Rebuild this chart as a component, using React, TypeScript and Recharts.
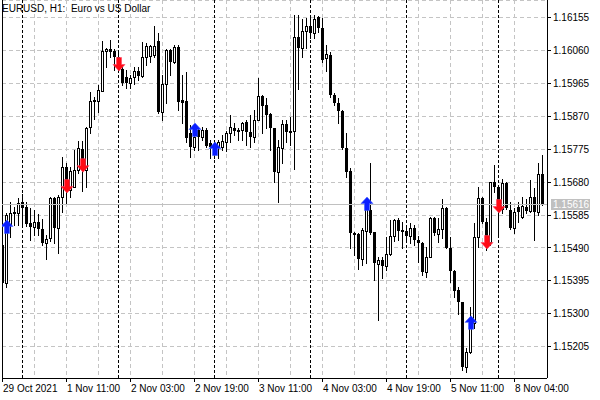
import React from "react";
import {
  ComposedChart,
  Bar,
  Scatter,
  XAxis,
  YAxis,
  CartesianGrid,
  ReferenceLine,
} from "recharts";

const FONT = '"Liberation Sans", Arial, sans-serif';

// EURUSD H1, bar 0 = 29 Oct 19:00, bar 135 = 8 Nov 10:00
const openPrices = [
  1.15499, 1.15389, 1.15559, 1.15591, 1.15591, 1.15623, 1.15608, 1.15562, 1.15551, 1.15565,
  1.15545, 1.15504, 1.15519, 1.15634, 1.15548, 1.15637, 1.15724, 1.15657, 1.15666, 1.15715,
  1.15776, 1.15715, 1.15839, 1.15917, 1.15914, 1.15943, 1.16059, 1.16064, 1.16059, 1.16041,
  1.16007, 1.15984, 1.15966, 1.15984, 1.16001, 1.15987, 1.16041, 1.16044, 1.16047, 1.16088,
  1.15883, 1.15963, 1.16062, 1.16027, 1.1607, 1.15917, 1.15914, 1.15822, 1.15782, 1.15831,
  1.1581, 1.15831, 1.15793, 1.15782, 1.15782, 1.15782, 1.15796, 1.15822, 1.15836, 1.15831,
  1.15831, 1.15854, 1.15825, 1.1581, 1.15859, 1.15929, 1.15903, 1.15877, 1.15836, 1.15709,
  1.15779, 1.15848, 1.15825, 1.15828, 1.16099, 1.16067, 1.16116, 1.16131, 1.16111, 1.16157,
  1.16125, 1.16038, 1.16047, 1.15932, 1.15909, 1.15885, 1.15779, 1.15712, 1.15533, 1.1553,
  1.15458, 1.15539, 1.156, 1.15536, 1.15444, 1.15455, 1.15438, 1.15473, 1.15525, 1.15571,
  1.15542, 1.15539, 1.15525, 1.15548, 1.15513, 1.15504, 1.15421, 1.15464, 1.15576, 1.1553,
  1.15545, 1.15605, 1.1549, 1.15424, 1.15369, 1.15334, 1.15146, 1.1519, 1.15273, 1.15522,
  1.15634, 1.15565, 1.15507, 1.1568, 1.15666, 1.15602, 1.15678, 1.156, 1.15548, 1.15608,
  1.15579, 1.15608, 1.15597, 1.15637, 1.15594, 1.15704,
];

const highPrices = [
  1.15504, 1.15591, 1.15623, 1.15608, 1.15634, 1.15646, 1.15623, 1.15605, 1.156, 1.15588,
  1.15574, 1.15527, 1.15637, 1.15637, 1.15643, 1.15753, 1.15735, 1.15724, 1.15773, 1.15799,
  1.15799, 1.15839, 1.1594, 1.15926, 1.15961, 1.16088, 1.16067, 1.1609, 1.16064, 1.16056,
  1.16013, 1.16004, 1.15989, 1.16013, 1.16013, 1.16085, 1.16082, 1.16076, 1.16131, 1.16111,
  1.15989, 1.16064, 1.16064, 1.16076, 1.16076, 1.15989, 1.15998, 1.15845, 1.15839, 1.15836,
  1.15839, 1.15836, 1.15802, 1.15796, 1.15802, 1.15816, 1.15828, 1.15874, 1.15851, 1.15836,
  1.15854, 1.15859, 1.15874, 1.15888, 1.15981, 1.15932, 1.15923, 1.1588, 1.15836, 1.15802,
  1.15859, 1.15859, 1.15868, 1.16163, 1.16163, 1.16151, 1.16154, 1.16163, 1.16163, 1.1616,
  1.16154, 1.16076, 1.16056, 1.15937, 1.15923, 1.15888, 1.15822, 1.15721, 1.15536, 1.15533,
  1.15548, 1.15628, 1.15735, 1.15536, 1.15464, 1.15464, 1.15522, 1.15571, 1.15574, 1.15576,
  1.15565, 1.15551, 1.15562, 1.15556, 1.15525, 1.15507, 1.15493, 1.15579, 1.15579, 1.15576,
  1.15631, 1.15608, 1.15522, 1.15426, 1.15377, 1.15334, 1.15201, 1.1532, 1.15562, 1.15666,
  1.15637, 1.15576, 1.1568, 1.1573, 1.15672, 1.15689, 1.1568, 1.15623, 1.15605, 1.15623,
  1.15637, 1.15631, 1.15686, 1.15663, 1.15735, 1.15758,
];

const lowPrices = [
  1.15386, 1.15377, 1.15522, 1.15556, 1.15556, 1.15559, 1.15553, 1.15513, 1.15527, 1.15527,
  1.15499, 1.15458, 1.1551, 1.15504, 1.15475, 1.15594, 1.1562, 1.15637, 1.15666, 1.15706,
  1.15654, 1.15666, 1.15822, 1.15862, 1.15883, 1.15943, 1.16013, 1.16041, 1.16004, 1.16007,
  1.15961, 1.15952, 1.15952, 1.15963, 1.15975, 1.15984, 1.16018, 1.16027, 1.16041, 1.1588,
  1.15859, 1.15909, 1.15989, 1.16024, 1.15888, 1.15851, 1.15796, 1.15753, 1.15773, 1.15773,
  1.15802, 1.15782, 1.1575, 1.1575, 1.1575, 1.15773, 1.1577, 1.15796, 1.15816, 1.15802,
  1.15802, 1.15787, 1.15782, 1.15796, 1.15859, 1.15822, 1.15836, 1.15773, 1.1568, 1.15623,
  1.15735, 1.15796, 1.15787, 1.15718, 1.15949, 1.16041, 1.16067, 1.16096, 1.16096, 1.16114,
  1.16027, 1.16001, 1.15926, 1.15903, 1.15851, 1.15776, 1.15695, 1.1549, 1.1547, 1.15429,
  1.15441, 1.15447, 1.1553, 1.15398, 1.15282, 1.15403, 1.15426, 1.1547, 1.1551, 1.15513,
  1.1549, 1.15513, 1.15504, 1.15499, 1.15449, 1.15412, 1.15406, 1.15464, 1.15527, 1.15507,
  1.15519, 1.1549, 1.15392, 1.15348, 1.15299, 1.15138, 1.15132, 1.15187, 1.15259, 1.15493,
  1.15562, 1.15484, 1.15499, 1.15652, 1.15527, 1.15591, 1.15602, 1.15545, 1.15533, 1.15565,
  1.15576, 1.15591, 1.15594, 1.15513, 1.15585, 1.15614,
];

const closePrices = [
  1.15389, 1.15585, 1.15591, 1.15594, 1.1562, 1.15605, 1.15559, 1.15551, 1.15565, 1.15545,
  1.15504, 1.15516, 1.15634, 1.15548, 1.15637, 1.15724, 1.15657, 1.15712, 1.15715, 1.15779,
  1.15715, 1.15836, 1.15914, 1.15911, 1.15946, 1.16059, 1.16064, 1.16056, 1.16041, 1.16024,
  1.15966, 1.15966, 1.15981, 1.16001, 1.15987, 1.16041, 1.16073, 1.16073, 1.16073, 1.15883,
  1.15963, 1.16062, 1.16027, 1.1607, 1.15911, 1.15909, 1.15808, 1.15782, 1.1581, 1.1581,
  1.15831, 1.15784, 1.15782, 1.1577, 1.15796, 1.15799, 1.15822, 1.15839, 1.15828, 1.15825,
  1.15851, 1.15825, 1.1581, 1.15859, 1.15929, 1.159, 1.15874, 1.15836, 1.15709, 1.15782,
  1.15848, 1.15825, 1.15828, 1.16099, 1.16067, 1.16116, 1.16131, 1.16111, 1.16151, 1.16125,
  1.16033, 1.1605, 1.15932, 1.15909, 1.15885, 1.15779, 1.15709, 1.15533, 1.15527, 1.15458,
  1.15542, 1.15608, 1.15533, 1.15447, 1.15455, 1.15438, 1.15473, 1.15525, 1.15571, 1.15539,
  1.15536, 1.15525, 1.15548, 1.15513, 1.15504, 1.15421, 1.15464, 1.15576, 1.15533, 1.15545,
  1.15605, 1.1549, 1.15424, 1.15366, 1.15334, 1.15146, 1.1519, 1.15273, 1.15522, 1.15634,
  1.15565, 1.15507, 1.1568, 1.15666, 1.15602, 1.15678, 1.15605, 1.15548, 1.15594, 1.15594,
  1.15611, 1.15597, 1.15637, 1.15594, 1.15704, 1.15616,
];

const bidPrice = 1.15616;

const upArrows = [
  { i: 1, p: 1.15571 },
  { i: 48, p: 1.15851 },
  { i: 53, p: 1.15796 },
  { i: 91, p: 1.15637 },
  { i: 117, p: 1.15294 },
];
const downArrows = [
  { i: 16, p: 1.15649 },
  { i: 20, p: 1.15709 },
  { i: 29, p: 1.16001 },
  { i: 121, p: 1.15487 },
  { i: 124, p: 1.15591 },
];

// day separators (first bar of each day)
const daySeparators = [5, 29, 53, 77, 101, 124];

const gridTicks = [0, 8, 16, 24, 32, 40, 48, 56, 64, 72, 80, 88, 96, 104, 112, 120, 128];
const xLabelIdx = [0, 16, 32, 48, 64, 80, 96, 112, 128];
const xLabels = [
  "29 Oct 2021",
  "1 Nov 11:00",
  "2 Nov 03:00",
  "2 Nov 19:00",
  "3 Nov 11:00",
  "4 Nov 03:00",
  "4 Nov 19:00",
  "5 Nov 11:00",
  "8 Nov 04:00",
];

const yTicks = [
  1.16155, 1.1606, 1.15965, 1.1587, 1.15775, 1.1568, 1.15585, 1.1549, 1.15395, 1.153, 1.15205,
];

const xDomain = [-0.075, 136.175];
const yDomain = [1.151146, 1.162061];

const candles = openPrices.map((o, i) => ({
  i,
  open: o,
  high: highPrices[i],
  low: lowPrices[i],
  close: closePrices[i],
  range: [lowPrices[i], highPrices[i]],
}));

const Candle = (props: any) => {
  const { x, y, width, height, payload } = props;
  if (x == null || y == null) return <g />;
  const { open, close, high, low } = payload;
  const cx = Math.round(x + width / 2);
  const span = high - low || 1;
  const py = (v: number) => y + ((high - v) / span) * height;
  const top = Math.round(py(Math.max(open, close)));
  const bot = Math.round(py(Math.min(open, close)));
  const hy = Math.round(y);
  const ly = Math.round(y + height);
  const bull = close > open;
  return (
    <g shapeRendering="crispEdges">
      <line x1={cx + 0.5} x2={cx + 0.5} y1={hy} y2={ly + 1} stroke="#000" />
      {bull ? (
        <rect x={cx - 0.5} y={top + 0.5} width={2} height={Math.max(bot - top, 1)} fill="#fff" stroke="#000" />
      ) : (
        <rect x={cx - 1} y={top} width={3} height={Math.max(bot - top, 1)} fill="#000" />
      )}
    </g>
  );
};

// thick wingdings-like arrow, tip at (cx, tip), dir 1 = up, -1 = down
const arrowPoints = (cx: number, tip: number, dir: number) => {
  const pts = [
    [0, 0],
    [6, 6.5],
    [2.5, 6.5],
    [2.5, 13.5],
    [-2.5, 13.5],
    [-2.5, 6.5],
    [-6, 6.5],
  ];
  return pts.map(([dx, dy]) => `${cx + dx},${tip + dir * dy}`).join(" ");
};

const UpArrow = (props: any) => {
  const { cx, cy } = props;
  if (cx == null) return <g />;
  return <polygon points={arrowPoints(Math.round(cx) + 1, cy, 1)} fill="#0a1eff" stroke="#3d5cff" strokeWidth={0.6} />;
};

const DownArrow = (props: any) => {
  const { cx, cy } = props;
  if (cx == null) return <g />;
  return <polygon points={arrowPoints(Math.round(cx) + 1, cy, -1)} fill="#ff0a14" stroke="#ff4060" strokeWidth={0.6} />;
};

const XTick = (props: any) => {
  const { x, y, payload } = props;
  const n = xLabelIdx.indexOf(payload.value);
  if (n < 0) return <g />;
  const px = Math.round(x);
  return (
    <g>
      <line x1={px + 0.5} x2={px + 0.5} y1={y} y2={y + 4} stroke="#000" shapeRendering="crispEdges" />
      <text x={px + 1} y={y + 14} fill="#000" fontSize={10} fontFamily={FONT}>
        {xLabels[n]}
      </text>
    </g>
  );
};

const PriceTag = (props: any) => {
  const { viewBox } = props;
  if (!viewBox) return null;
  const right = viewBox.x + viewBox.width;
  const yy = Math.round(viewBox.y);
  return (
    <g>
      <rect x={right + 4} y={yy - 5} width={39} height={11} fill="#c0c0c0" />
      <text x={right + 6} y={yy + 4} fill="#fff" fontSize={10} fontFamily={FONT}>
        {bidPrice.toFixed(5)}
      </text>
    </g>
  );
};

export default function App() {
  return (
    <div style={{ position: "absolute", left: 0, top: 0, width: 600, height: 400, background: "#fff" }}>
      <style>{`.recharts-cartesian-grid line, .recharts-reference-line line, .recharts-cartesian-axis line { shape-rendering: crispEdges; }`}</style>
      <ComposedChart
        width={600}
        height={400}
        data={candles}
        margin={{ top: 0, right: 0, bottom: 0, left: 2 }}
      >
        <CartesianGrid stroke="#c4c4c4" strokeDasharray="4 3" />
        <XAxis
          dataKey="i"
          type="number"
          domain={xDomain}
          allowDataOverflow
          ticks={gridTicks}
          interval={0}
          height={22}
          tickSize={0}
          tickMargin={0}
          tickLine={false}
          axisLine={{ stroke: "#000" }}
          tick={<XTick />}
        />
        <YAxis
          orientation="right"
          type="number"
          domain={yDomain}
          allowDataOverflow
          ticks={yTicks}
          interval={0}
          width={53}
          tickSize={4}
          tickMargin={2}
          tickFormatter={(v: number) => v.toFixed(5)}
          tick={{ fill: "#000", fontSize: 10, fontFamily: FONT }}
          axisLine={{ stroke: "#000" }}
          tickLine={{ stroke: "#000" }}
        />
        <ReferenceLine x={xDomain[0]} stroke="#000" />
        <ReferenceLine y={bidPrice} stroke="#c0c0c0" label={<PriceTag />} />
        {daySeparators.map((s) => (
          <ReferenceLine key={s} x={s} stroke="#000" strokeDasharray="3 2" />
        ))}
        <Bar dataKey="range" shape={<Candle />} isAnimationActive={false} />
        <Scatter data={upArrows} dataKey="p" shape={<UpArrow />} isAnimationActive={false} />
        <Scatter data={downArrows} dataKey="p" shape={<DownArrow />} isAnimationActive={false} />
      </ComposedChart>
      <svg
        width={600}
        height={20}
        style={{ position: "absolute", left: 0, top: 0, pointerEvents: "none" }}
      >
        <text x={2} y={12} fontSize={10} fontFamily={FONT} fill="#000" style={{ whiteSpace: "pre" }}>
          {"EURUSD, H1:  Euro vs US Dollar"}
        </text>
      </svg>
    </div>
  );
}
